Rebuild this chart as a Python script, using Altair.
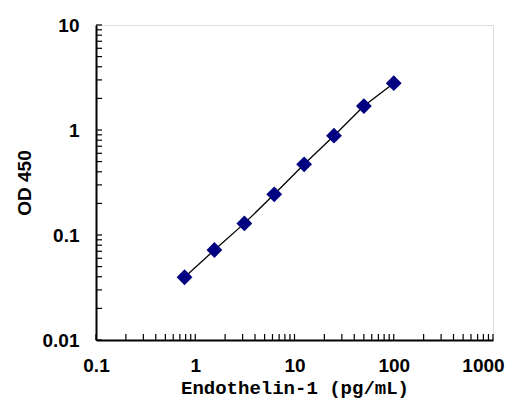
import altair as alt
import pandas as pd

# data
conc = [0.78, 1.56, 3.125, 6.25, 12.5, 25, 50, 100]
od = [0.0396, 0.072, 0.129, 0.244, 0.471, 0.883, 1.69, 2.79]

x_major = [0.1, 1, 10, 100, 1000]
y_major = [0.01, 0.1, 1, 10]
x_minor = [m * d for d in [0.1, 1, 10, 100] for m in range(1, 10)] + [1000]
y_minor = [m * d for d in [0.01, 0.1, 1] for m in range(1, 10)] + [10]

df = pd.DataFrame({"conc": conc, "od": od})
dfx = pd.DataFrame({"t": x_minor})
dfy = pd.DataFrame({"t": y_minor})

W, H = 397, 315
xscale = alt.Scale(type="log", domain=[0.1, 1000], nice=False)
yscale = alt.Scale(type="log", domain=[0.01, 10], nice=False)

FONT = "Liberation Sans"

xaxis = alt.Axis(
    values=x_major, format="~g", grid=False, ticks=False,
    domainColor="black", domainWidth=2,
    labelFont=FONT, labelFontSize=19, labelFontWeight="bold", labelColor="black",
    labelPadding=16, labelFlush=False, labelOverlap=False,
    labelOffset=alt.expr("datum.value >= 1000 ? -10 : 0"),
    title="Endothelin-1   (pg/mL)", titleFont="Liberation Mono",
    titleFontSize=19, titleFontWeight="bold", titleColor="black",
    titleY=57, titleBaseline="bottom",
)
yaxis = alt.Axis(
    values=y_major, format="~g", grid=False, ticks=False,
    domainColor="black", domainWidth=2,
    labelFont=FONT, labelFontSize=19, labelFontWeight="bold", labelColor="black",
    labelPadding=17, labelFlush=False, labelOverlap=False,
    title="OD 450", titleFont=FONT, titleFontSize=19, titleFontWeight="bold",
    titleColor="black", titleX=-72, titleY=H / 2, titleAngle=270,
    titleAlign="center", titleBaseline="middle",
)

line = alt.Chart(df).mark_line(color="black", strokeWidth=1.3).encode(
    x=alt.X("conc:Q", scale=xscale, axis=xaxis),
    y=alt.Y("od:Q", scale=yscale, axis=yaxis),
)
pts = alt.Chart(df).mark_point(
    shape="diamond", filled=True, color="#000080", size=250, opacity=1
).encode(
    x=alt.X("conc:Q", scale=xscale),
    y=alt.Y("od:Q", scale=yscale),
)
yticks = alt.Chart(dfy).mark_rule(color="black", strokeWidth=1.2).encode(
    y=alt.Y("t:Q", scale=yscale),
    x=alt.value(0), x2=alt.value(6),
)
xticks = alt.Chart(dfx).mark_rule(color="black", strokeWidth=1.2).encode(
    x=alt.X("t:Q", scale=xscale),
    y=alt.value(H), y2=alt.value(H - 6),
)

chart = alt.layer(yticks, xticks, line, pts).properties(
    width=W, height=H,
    autosize=alt.AutoSizeParams(type="none"),
    padding={"left": 88, "top": 17, "right": 15, "bottom": 60},
).configure_view(stroke="#999999", strokeWidth=2).configure(background="white")

chart.save("out.html", embed_options={"renderer": "svg", "actions": False})
